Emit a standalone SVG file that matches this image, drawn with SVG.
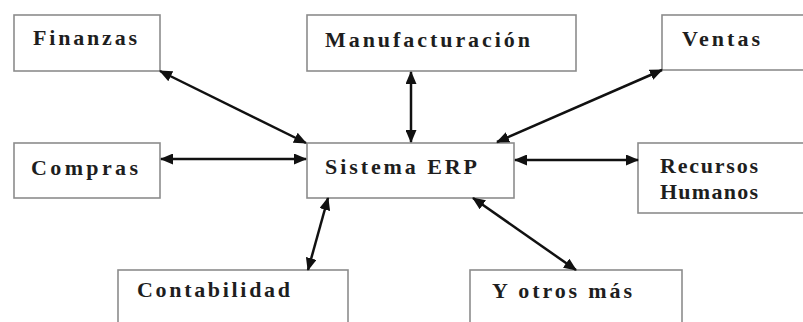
<svg xmlns="http://www.w3.org/2000/svg" width="803" height="322" viewBox="0 0 803 322">
  <style>
    .box { fill: #ffffff; stroke: #8c8c8c; stroke-width: 1.6; }
    .lbl { font-family: "Liberation Serif", "DejaVu Serif", serif; font-size: 22px; font-weight: bold; fill: #1e1e1e; }
    .link { stroke: #111111; stroke-width: 2.5; fill: none; marker-start: url(#head); marker-end: url(#head); }
  </style>
  <defs>
    <marker id="head" viewBox="0 0 13 11" refX="12" refY="5.5" markerWidth="13" markerHeight="11" markerUnits="userSpaceOnUse" orient="auto-start-reverse">
      <path d="M0,0 L13,5.5 L0,11 z" fill="#111111"/>
    </marker>
  </defs>
  <rect width="803" height="322" fill="#ffffff"/>

  <g id="finanzas">
    <rect class="box" x="14" y="15" width="146" height="56"/>
    <text class="lbl" x="33" y="45" textLength="104" lengthAdjust="spacing">Finanzas</text>
  </g>
  <g id="manufacturacion">
    <rect class="box" x="307" y="15" width="269" height="56"/>
    <text class="lbl" x="325" y="47" textLength="205" lengthAdjust="spacing">Manufacturación</text>
  </g>
  <g id="ventas">
    <rect class="box" x="662" y="15" width="150" height="55"/>
    <text class="lbl" x="682" y="46" textLength="78" lengthAdjust="spacing">Ventas</text>
  </g>
  <g id="compras">
    <rect class="box" x="14" y="143" width="146" height="55"/>
    <text class="lbl" x="31" y="175" textLength="107" lengthAdjust="spacing">Compras</text>
  </g>
  <g id="sistema-erp">
    <rect class="box" x="307" y="143" width="207" height="55"/>
    <text class="lbl" x="325" y="174" textLength="152" lengthAdjust="spacing">Sistema ERP</text>
  </g>
  <g id="recursos-humanos">
    <rect class="box" x="638" y="143" width="175" height="70"/>
    <text class="lbl" x="660" y="173" textLength="98" lengthAdjust="spacing">Recursos</text>
    <text class="lbl" x="660" y="199" textLength="98" lengthAdjust="spacing">Humanos</text>
  </g>
  <g id="contabilidad">
    <rect class="box" x="118" y="270" width="230" height="70"/>
    <text class="lbl" x="137" y="297" textLength="153" lengthAdjust="spacing">Contabilidad</text>
  </g>
  <g id="y-otros-mas">
    <rect class="box" x="470" y="270" width="212" height="70"/>
    <text class="lbl" x="492" y="298" textLength="140" lengthAdjust="spacing">Y otros más</text>
  </g>

  <g id="connectors">
    <line class="link" x1="160" y1="71" x2="306" y2="143"/>
    <line class="link" x1="411" y1="72" x2="411" y2="142"/>
    <line class="link" x1="662" y1="70" x2="497" y2="142"/>
    <line class="link" x1="161" y1="159" x2="306" y2="159"/>
    <line class="link" x1="515" y1="160" x2="638" y2="160"/>
    <line class="link" x1="328" y1="198" x2="308" y2="270"/>
    <line class="link" x1="473" y1="198" x2="576" y2="270"/>
  </g>
</svg>
